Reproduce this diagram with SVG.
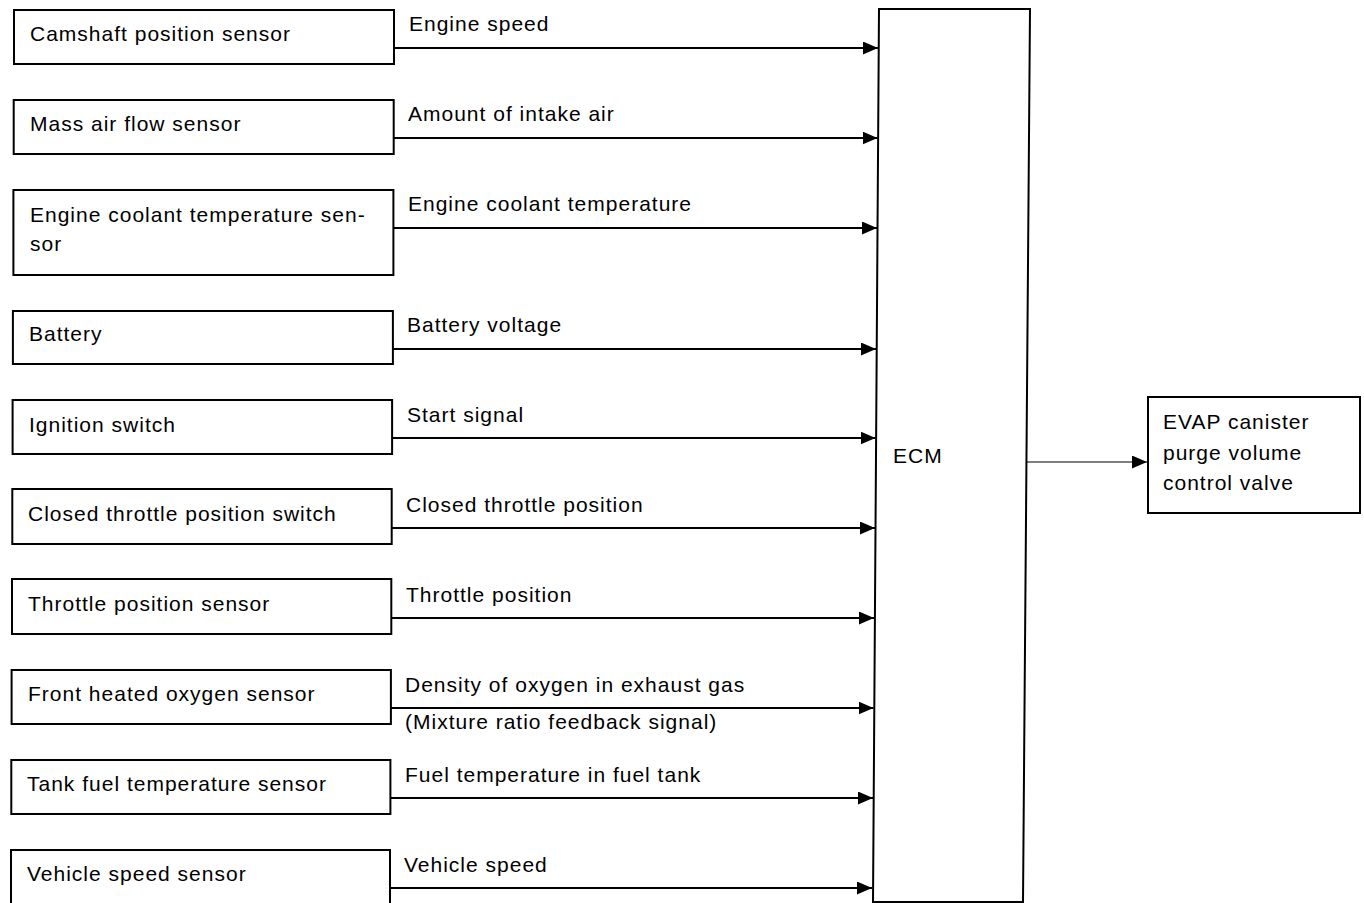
<svg xmlns="http://www.w3.org/2000/svg" width="1364" height="903" viewBox="0 0 1364 903">
<style>
  .box{fill:#fff;stroke:#000;stroke-width:2}
  .t{font-family:"Liberation Sans",Arial,sans-serif;font-size:21px;letter-spacing:1px;fill:#000}
  .c{stroke:#000;stroke-width:2;fill:none}
  .c1{stroke:#000;stroke-width:1.2;fill:none}
</style>
<defs>
  <marker id="ah" markerUnits="userSpaceOnUse" markerWidth="16" markerHeight="14" refX="15" refY="6.5" orient="auto">
    <path d="M0,0 L15,6.5 L0,13 Z" fill="#000"/>
  </marker>
</defs>
<rect width="1364" height="903" fill="#fff"/>

<g id="n-camshaft"><rect class="box" x="14" y="10" width="380" height="54"/><text class="t" x="30" y="41">Camshaft position sensor</text></g>
<g id="n-maf"><rect class="box" x="13.7" y="100" width="380" height="54"/><text class="t" x="30" y="131">Mass air flow sensor</text></g>
<g id="n-ect"><rect class="box" x="13.4" y="190" width="380" height="85"/><text class="t" x="30" y="222">Engine coolant temperature sen-</text><text class="t" x="30" y="251">sor</text></g>
<g id="n-battery"><rect class="box" x="12.9" y="311" width="380" height="53"/><text class="t" x="29" y="341">Battery</text></g>
<g id="n-ignition"><rect class="box" x="12.6" y="400" width="379.5" height="54"/><text class="t" x="29" y="432">Ignition switch</text></g>
<g id="n-ctps"><rect class="box" x="12.3" y="489" width="379.4" height="55"/><text class="t" x="28" y="521">Closed throttle position switch</text></g>
<g id="n-tps"><rect class="box" x="12" y="579" width="379.3" height="55"/><text class="t" x="28" y="611">Throttle position sensor</text></g>
<g id="n-ho2s"><rect class="box" x="11.6" y="670" width="379.3" height="54"/><text class="t" x="28" y="701">Front heated oxygen sensor</text></g>
<g id="n-tank"><rect class="box" x="11.3" y="760" width="379.1" height="54"/><text class="t" x="27" y="791">Tank fuel temperature sensor</text></g>
<g id="n-vss"><rect class="box" x="11" y="850" width="379" height="70"/><text class="t" x="27" y="881">Vehicle speed sensor</text></g>

<g id="n-ecm"><path class="box" d="M879,9 L1030,9 L1023,902 L873,902 Z"/><text class="t" x="893" y="463">ECM</text></g>

<g id="n-evap"><rect class="box" x="1148" y="397" width="212" height="116"/>
  <text class="t" x="1163" y="429">EVAP canister</text>
  <text class="t" x="1163" y="460">purge volume</text>
  <text class="t" x="1163" y="490">control valve</text>
</g>

<g id="connectors">
  <line class="c" x1="394" y1="48" x2="878" y2="48" marker-end="url(#ah)"/>
  <line class="c" x1="393.7" y1="138" x2="877.5" y2="138" marker-end="url(#ah)"/>
  <line class="c" x1="393.4" y1="228" x2="877" y2="228" marker-end="url(#ah)"/>
  <line class="c" x1="392.9" y1="349" x2="876" y2="349" marker-end="url(#ah)"/>
  <line class="c" x1="392.1" y1="438" x2="875.5" y2="438" marker-end="url(#ah)"/>
  <line class="c" x1="391.7" y1="528" x2="875" y2="528" marker-end="url(#ah)"/>
  <line class="c" x1="391.3" y1="618" x2="874" y2="618" marker-end="url(#ah)"/>
  <line class="c" x1="390.9" y1="708" x2="873.5" y2="708" marker-end="url(#ah)"/>
  <line class="c" x1="390.4" y1="798" x2="873" y2="798" marker-end="url(#ah)"/>
  <line class="c" x1="390" y1="888" x2="872" y2="888" marker-end="url(#ah)"/>
  <line class="c1" x1="1026" y1="462" x2="1147" y2="462" marker-end="url(#ah)"/>

  <text class="t" x="409" y="31">Engine speed</text>
  <text class="t" x="408" y="121">Amount of intake air</text>
  <text class="t" x="408" y="211">Engine coolant temperature</text>
  <text class="t" x="407" y="332">Battery voltage</text>
  <text class="t" x="407" y="422">Start signal</text>
  <text class="t" x="406" y="512">Closed throttle position</text>
  <text class="t" x="406" y="602">Throttle position</text>
  <text class="t" x="405" y="692">Density of oxygen in exhaust gas</text>
  <text class="t" x="405" y="729">(Mixture ratio feedback signal)</text>
  <text class="t" x="405" y="782">Fuel temperature in fuel tank</text>
  <text class="t" x="404" y="872">Vehicle speed</text>
</g>
</svg>
